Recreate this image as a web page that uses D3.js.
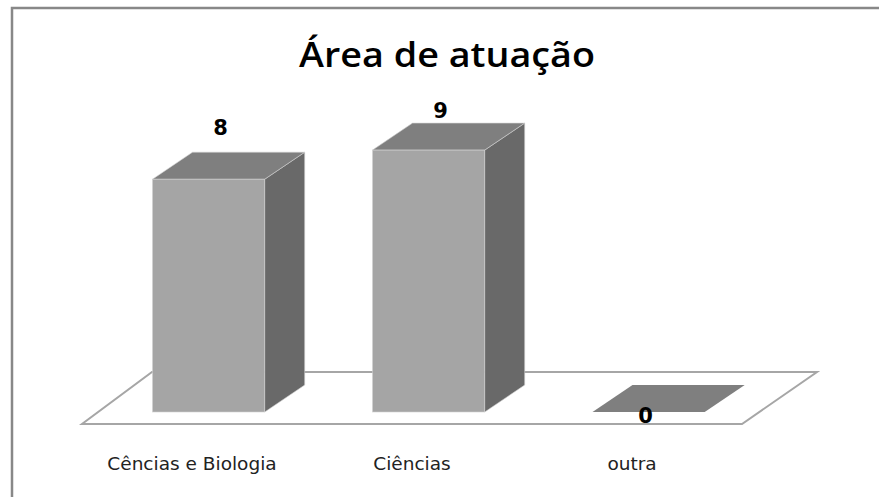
<!DOCTYPE html>
<html>
<head>
<meta charset="utf-8">
<script src="https://cdn.jsdelivr.net/npm/d3@7"></script>
<style>
  html, body { margin: 0; padding: 0; background: #fff; }
  svg { display: block; }
</style>
</head>
<body>
<div id="chart"></div>
<script>
// dados
var categorias = ["Cências e Biologia", "Ciências", "outra"];
var valores = [8, 9, 0];
var titulo = "Área de atuação";

(function () {
	'use strict';
	var width = 879, height = 497;
	var svg = d3.select("#chart").append("svg")
		.attr("width", width)
		.attr("height", height);

	// moldura (so esquerda e topo visiveis)
	svg.append("rect")
		.attr("x", 12).attr("y", 8)
		.attr("width", width + 20).attr("height", height + 20)
		.attr("fill", "#fff")
		.attr("stroke", "#888")
		.attr("stroke-width", 2.5);

	// titulo
	svg.append("text")
		.attr("x", 447).attr("y", 67)
		.attr("text-anchor", "middle")
		.attr("font-family", "'Open Sans', 'Liberation Sans', sans-serif")
		.attr("font-weight", 600)
		.attr("font-size", 34)
		.attr("textLength", 296)
		.attr("lengthAdjust", "spacingAndGlyphs")
		.attr("fill", "#000")
		.text(titulo);

	// escalas
	var floorFront = 424, floorDx = 72, floorDy = -52;
	var x = d3.scaleBand()
		.domain(categorias)
		.range([82, 742])
		.paddingInner(0.49)
		.paddingOuter(0.245);
	var y = d3.scaleLinear()
		.domain([0, 10])
		.range([412, 121]);

	// profundidade das barras
	var f0 = 12 / 52;              // posicao da face frontal no piso
	var offX = floorDx * f0;       // deslocamento horizontal da face frontal
	var dx = 40, dy = -27;         // profundidade da barra

	// piso
	var x0 = x.range()[0], x1 = x.range()[1];
	svg.append("path")
		.attr("d", "M" + x0 + "," + floorFront +
			"L" + x1 + "," + floorFront +
			"L" + (x1 + floorDx + 3) + "," + (floorFront + floorDy) +
			"L" + (x0 + floorDx - 2) + "," + (floorFront + floorDy) + "Z")
		.attr("fill", "#fff")
		.attr("stroke", "#a6a6a6")
		.attr("stroke-width", 2);

	var dados = categorias.map(function (c, i) { return { cat: c, v: valores[i] }; });

	var bars = svg.selectAll(".bar3d")
		.data(dados)
		.enter().append("g")
		.attr("class", "bar3d");

	function pts(p) { return p.map(function (q) { return q.join(","); }).join(" "); }

	// face lateral
	bars.append("polygon")
		.attr("points", function (d) {
			var l = x(d.cat) + offX, r = l + x.bandwidth(), t = y(d.v), b = y(0);
			return pts([[r, t], [r + dx, t + dy], [r + dx, b + dy], [r, b]]);
		})
		.attr("fill", "#696969")
		.attr("stroke", "#d0d0d0")
		.attr("stroke-width", 0.6)
		.style("display", function (d) { return d.v > 0 ? null : "none"; });

	// face superior
	bars.append("polygon")
		.attr("points", function (d) {
			var l = x(d.cat) + offX, r = l + x.bandwidth(), t = y(d.v);
			return pts([[l, t], [l + dx, t + dy], [r + dx, t + dy], [r, t]]);
		})
		.attr("fill", "#7f7f7f")
		.attr("stroke", "#d0d0d0")
		.attr("stroke-width", function (d) { return d.v > 0 ? 0.6 : 0; });

	// face frontal
	bars.append("rect")
		.attr("x", function (d) { return x(d.cat) + offX; })
		.attr("y", function (d) { return y(d.v); })
		.attr("width", x.bandwidth())
		.attr("height", function (d) { return y(0) - y(d.v); })
		.attr("fill", "#a5a5a5")
		.attr("stroke", "#d0d0d0")
		.attr("stroke-width", 0.6)
		.style("display", function (d) { return d.v > 0 ? null : "none"; });

	// rotulos de valor
	bars.append("text")
		.attr("x", function (d) { return x(d.cat) + offX + x.bandwidth() / 2 + (d.v > 0 ? 12 : -3); })
		.attr("y", function (d) {
			if (d.v === 0) { return y(0) + 11; }
			return Math.max(y(d.v) - 44, 118);
		})
		.attr("text-anchor", "middle")
		.attr("font-family", "'DejaVu Sans', sans-serif")
		.attr("font-weight", "bold")
		.attr("font-size", 21)
		.attr("fill", "#000")
		.text(function (d) { return d.v; });

	// rotulos das categorias
	svg.selectAll(".cat-label")
		.data(categorias)
		.enter().append("text")
		.attr("class", "cat-label")
		.attr("x", function (d) { return x(d) + x.bandwidth() / 2; })
		.attr("y", 470)
		.attr("text-anchor", "middle")
		.attr("font-family", "'DejaVu Sans', sans-serif")
		.attr("font-size", 18.5)
		.attr("fill", "#222")
		.text(function (d) { return d; });
}());
</script>
</body>
</html>
